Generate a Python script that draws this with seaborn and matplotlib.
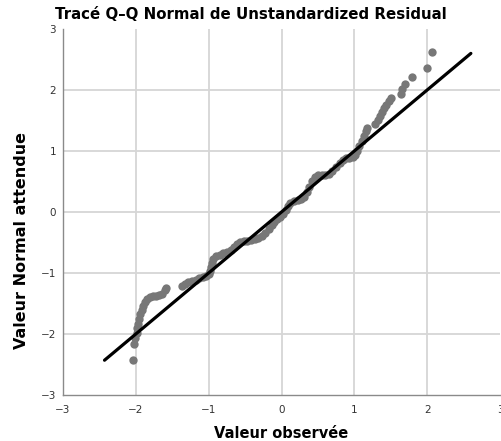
import matplotlib
matplotlib.use("Agg")
import matplotlib.pyplot as plt
import seaborn as sns
import pandas as pd

# Observed values (x) and expected normal values (y)
observed = [-2.04, -2.02, -2.01, -1.99, -1.98, -1.97, -1.95, -1.94, -1.92, -1.90,
            -1.87, -1.84, -1.80, -1.76, -1.72, -1.68, -1.64, -1.60, -1.58,
            -1.37, -1.33, -1.28, -1.23, -1.18, -1.13, -1.08, -1.03, -0.99,
            -0.98, -0.97, -0.96, -0.94, -0.90, -0.85, -0.80, -0.75, -0.70, -0.65,
            -0.61, -0.57, -0.52, -0.47, -0.42, -0.37, -0.32, -0.27, -0.22, -0.17,
            -0.13, -0.10, -0.06, -0.02, 0.02, 0.06, 0.09, 0.12, 0.17, 0.22,
            0.27, 0.31, 0.35, 0.38, 0.42, 0.46, 0.50, 0.55, 0.60, 0.65,
            0.70, 0.75, 0.80, 0.84, 0.88, 0.93, 0.98, 1.01, 1.04, 1.07,
            1.10, 1.13, 1.16, 1.18,
            1.29, 1.32, 1.35, 1.38, 1.41, 1.44, 1.47, 1.50,
            1.64, 1.66, 1.69, 1.79, 2.00, 2.06]
expected = [-2.43, -2.17, -2.07, -1.98, -1.90, -1.83, -1.75, -1.68, -1.61, -1.54,
            -1.48, -1.43, -1.39, -1.38, -1.37, -1.36, -1.34, -1.28, -1.25,
            -1.21, -1.18, -1.15, -1.13, -1.11, -1.09, -1.07, -1.05, -1.02,
            -0.97, -0.90, -0.83, -0.77, -0.72, -0.70, -0.68, -0.66, -0.63, -0.57,
            -0.52, -0.49, -0.48, -0.47, -0.46, -0.45, -0.42, -0.39, -0.35, -0.28,
            -0.22, -0.17, -0.12, -0.08, -0.04, 0.03, 0.10, 0.15, 0.18, 0.20,
            0.22, 0.25, 0.33, 0.41, 0.50, 0.57, 0.60, 0.60, 0.61, 0.63,
            0.68, 0.73, 0.80, 0.86, 0.88, 0.89, 0.90, 0.93, 1.00, 1.08,
            1.16, 1.24, 1.32, 1.38,
            1.44, 1.50, 1.57, 1.64, 1.70, 1.76, 1.82, 1.87,
            1.94, 2.02, 2.10, 2.21, 2.36, 2.62]

# Reference line endpoints
line_x = [-2.43, 2.60]
line_y = [-2.43, 2.60]

ticks = [-3, -2, -1, 0, 1, 2, 3]

title = "Tracé Q–Q Normal de Unstandardized Residual"
xlabel = "Valeur observée"
ylabel = "Valeur Normal attendue"

sns.set_style("white")
plt.rcParams['font.family'] = ['DejaVu Sans']

fig = plt.figure(figsize=(5.01, 4.41), dpi=100)
ax = fig.add_axes([63/501, 1 - 395/441, 437/501, 366/441])

pts = pd.DataFrame({"obs": observed, "exp": expected})
sns.scatterplot(data=pts, x="obs", y="exp", ax=ax, color="#777777", s=36,
                linewidth=0, zorder=3)
ln = pd.DataFrame({"x": line_x, "y": line_y})
sns.lineplot(data=ln, x="x", y="y", ax=ax, color="black", linewidth=2.3,
             zorder=4)

ax.set_xlim(-3, 3)
ax.set_ylim(-3, 3)
ax.set_xticks(ticks)
ax.set_yticks(ticks)
ax.grid(True, color="#d6d6d6", linewidth=1.3)
for gl in [ax.get_xgridlines()[0], ax.get_xgridlines()[-1],
           ax.get_ygridlines()[0], ax.get_ygridlines()[-1]]:
    gl.set_visible(False)
ax.set_axisbelow(True)
for s in ["top", "right"]:
    ax.spines[s].set_visible(False)
for s in ["left", "bottom"]:
    ax.spines[s].set_color("#8a8a8a")
    ax.spines[s].set_linewidth(1.0)
ax.tick_params(axis="both", length=0, labelsize=7.5, labelcolor="#333333")
ax.tick_params(axis="x", pad=7)
ax.tick_params(axis="y", pad=5)

ax.set_xlabel(xlabel, fontsize=10.5, fontweight="bold", color="black")
ax.set_ylabel(ylabel, fontsize=11.5, fontweight="bold", color="black")
ax.xaxis.set_label_coords(0.5, -0.085)
ax.yaxis.set_label_coords(-0.078, 0.423)
fig.suptitle(title, x=0.5, y=0.985, fontsize=10.8, fontweight="bold",
             color="black")

fig.savefig("out.png", dpi=100)
